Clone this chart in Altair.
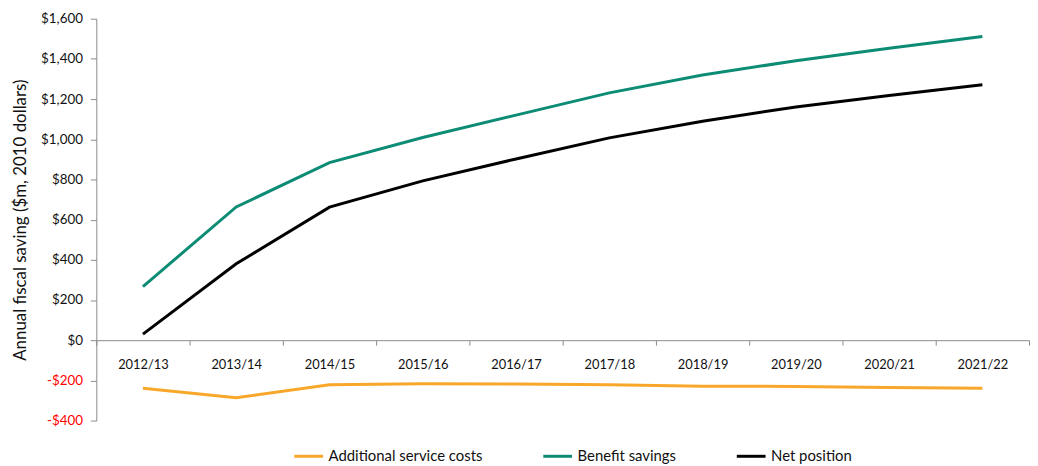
import altair as alt
import pandas as pd

years = ["2012/13", "2013/14", "2014/15", "2015/16", "2016/17",
         "2017/18", "2018/19", "2019/20", "2020/21", "2021/22"]
additional_service_costs = [-239, -286, -222, -217, -218, -222, -229, -230, -235, -239]
benefit_savings = [267, 663, 884, 1009, 1120, 1231, 1320, 1391, 1453, 1511]
net_position = [30, 380, 662, 793, 902, 1007, 1090, 1161, 1218, 1271]

series_names = ["Additional service costs", "Benefit savings", "Net position"]
series_colors = ["#F9A72B", "#0D8C75", "#000000"]

rows = []
for name, vals in zip(series_names, [additional_service_costs, benefit_savings, net_position]):
    for y, v in zip(years, vals):
        rows.append({"year": y, "value": v, "series": name})
df = pd.DataFrame(rows)

FONT = "Lato"

chart = alt.Chart(df).mark_line(strokeWidth=3).encode(
    x=alt.X("year:N", sort=years, title=None,
            scale=alt.Scale(type="band", paddingInner=0, paddingOuter=0),
            axis=alt.Axis(offset=-81, tickBand="extent", labelAngle=0,
                          domainColor="#8c8c8c", tickColor="#8c8c8c", tickSize=5,
                          labelPadding=14, labelFontSize=13, labelColor="#111111",
                          labelFont=FONT, grid=False)),
    y=alt.Y("value:Q", title="Annual fiscal saving ($m, 2010 dollars)",
            scale=alt.Scale(domain=[-400, 1600], nice=False),
            axis=alt.Axis(values=list(range(-400, 1601, 200)), grid=False,
                          labelExpr="datum.value < 0 ? '-$' + format(-datum.value, ',') : '$' + format(datum.value, ',')",
                          labelColor=alt.ExprRef(expr="datum.value < 0 ? '#ff0000' : '#111111'"),
                          domainColor="#8c8c8c", tickColor="#8c8c8c", tickSize=6,
                          labelPadding=8, labelFontSize=13.5, labelFont=FONT,
                          titleFont=FONT, titleFontSize=17, titleFontWeight="normal",
                          titleColor="#111111", titlePadding=11)),
    color=alt.Color("series:N", sort=series_names,
                    scale=alt.Scale(domain=series_names, range=series_colors),
                    legend=alt.Legend(title=None, orient="none", direction="horizontal",
                                      legendX=198, legendY=425, labelLimit=400,
                                      symbolType="stroke", symbolSize=841, symbolStrokeWidth=3,
                                      labelFontSize=15, labelFont=FONT, labelColor="#111111",
                                      columnPadding=54, labelOffset=4)),
).properties(
    width=940, height=405,
    autosize=alt.AutoSizeParams(type="none"),
    padding={"left": 89, "top": 9, "right": 1, "bottom": 44},
).configure_view(stroke=None)

chart.save("out.html", embed_options={"renderer": "svg", "actions": False})
